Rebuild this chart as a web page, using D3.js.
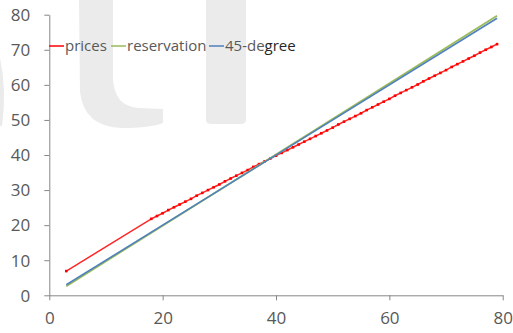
<!DOCTYPE html>
<html><head><meta charset="utf-8">
<script src="https://cdn.jsdelivr.net/npm/d3@7"></script>
<style>body{margin:0;background:#fff}svg{display:block}</style>
</head><body>
<svg id="c" width="513" height="333"></svg>
<script>
// ---- data ----
const seriesNames = ["prices", "reservation", "45-degree"];
const priceX = [3,18,19,20,21,22,23,24,25,26,27,28,29,30,31,32,33,34,35,36,37,38,39,40,41,42,43,44,45,46,47,48,49,50,51,52,53,54,55,56,57,58,59,60,61,62,63,64,65,66,67,68,69,70,71,72,73,74,75,76,77,78,79];
const priceY = [6.9,21.8,22.6,23.4,24.3,25.1,25.9,26.7,27.5,28.4,29.2,30.0,30.8,31.6,32.5,33.3,34.1,34.9,35.7,36.6,37.4,38.2,39.0,39.8,40.6,41.4,42.2,43.0,43.8,44.6,45.4,46.2,47.0,47.8,48.7,49.5,50.3,51.1,51.9,52.8,53.6,54.4,55.2,56.0,56.9,57.7,58.5,59.3,60.1,61.0,61.8,62.6,63.4,64.2,65.1,65.9,66.7,67.5,68.3,69.2,70.0,70.8,71.6];
const reservationX = [3,79];
const reservationY = [2.6,79.7];
const degreeX = [3,79];
const degreeY = [3,79];
const xTicks = [0,20,40,60,80];
const yTicks = [0,10,20,30,40,50,60,70,80];

// ---- layout ----
const svg = d3.select("#c");
const L = 49.3, R = 502.7, T = 14.7, B = 295.3;
const x = d3.scaleLinear().domain([0,80]).range([L,R]);
const y = d3.scaleLinear().domain([0,80]).range([B,T]);
const axisCol = "#868686", txtCol = "#595959";
const font = "'Open Sans', 'Liberation Sans', sans-serif";

// watermark decoration
const wm = svg.append("g").attr("fill","#ebebeb");
wm.append("path").attr("d","M79,0 L113,0 L113,78 Q114,106 138,108 L163,109 L163,123 Q150,128 122,128 Q84,127 80,92 Z");
wm.append("path").attr("d","M206,0 L246,0 L246,120 Q246,124 240,124 L212,124 Q206,124 206,120 Z");
wm.append("path").attr("d","M0,58 Q7,90 2,126 L0,126 Z");

// axes
const xa = svg.append("g").attr("transform",`translate(0,${B})`)
  .call(d3.axisBottom(x).tickValues(xTicks).tickSize(5).tickSizeOuter(0).tickPadding(8));
const ya = svg.append("g").attr("transform",`translate(${L},0)`)
  .call(d3.axisLeft(y).tickValues(yTicks).tickSize(5).tickSizeOuter(0).tickPadding(14));
[xa,ya].forEach(a=>{
  a.select(".domain").attr("stroke",axisCol);
  a.selectAll(".tick line").attr("stroke",axisCol);
  a.selectAll(".tick text").attr("fill",txtCol).attr("font-family",font).attr("font-size",17);
});
xa.selectAll(".tick text").attr("dy","0.9em");
ya.selectAll(".tick text").attr("dy","0.34em");

// lines
const line = d3.line().x(d=>x(d[0])).y(d=>y(d[1]));
const colors = ["#ff0000","#9bbb59","#4f81bd"];
const priceData = priceX.map((v,i)=>[v,priceY[i]]);
const resData = reservationX.map((v,i)=>[v,reservationY[i]]);
const degData = degreeX.map((v,i)=>[v,degreeY[i]]);
svg.append("path").datum(priceData).attr("d",line).attr("fill","none").attr("stroke",colors[0]).attr("stroke-width",1.5).attr("stroke-opacity",0.85);
svg.append("g").selectAll("rect").data(priceData).join("rect")
  .attr("x",d=>x(d[0])-1.3).attr("y",d=>y(d[1])-1.3).attr("width",2.6).attr("height",2.6).attr("fill","#ff0000");
svg.append("path").datum(resData).attr("d",line).attr("fill","none").attr("stroke",colors[1]).attr("stroke-width",1.8);
svg.append("path").datum(degData).attr("d",line).attr("fill","none").attr("stroke",colors[2]).attr("stroke-width",1.6);

// legend
const lg = svg.append("g").attr("font-family",font).attr("font-size",15).attr("fill",txtCol);
const legX = [49,111,209];
seriesNames.forEach((n,i)=>{
  lg.append("line").attr("x1",legX[i]).attr("x2",legX[i]+15).attr("y1",46).attr("y2",46).attr("stroke",colors[i]).attr("stroke-width",1.5);
  const t = lg.append("text").attr("x",legX[i]+16).attr("y",46).attr("dy","0.35em");
  if (i===2) { t.append("tspan").text(n.slice(0,5)); t.append("tspan").attr("fill","#262626").text(n.slice(5)); }
  else t.text(n);
});
</script>
</body></html>
